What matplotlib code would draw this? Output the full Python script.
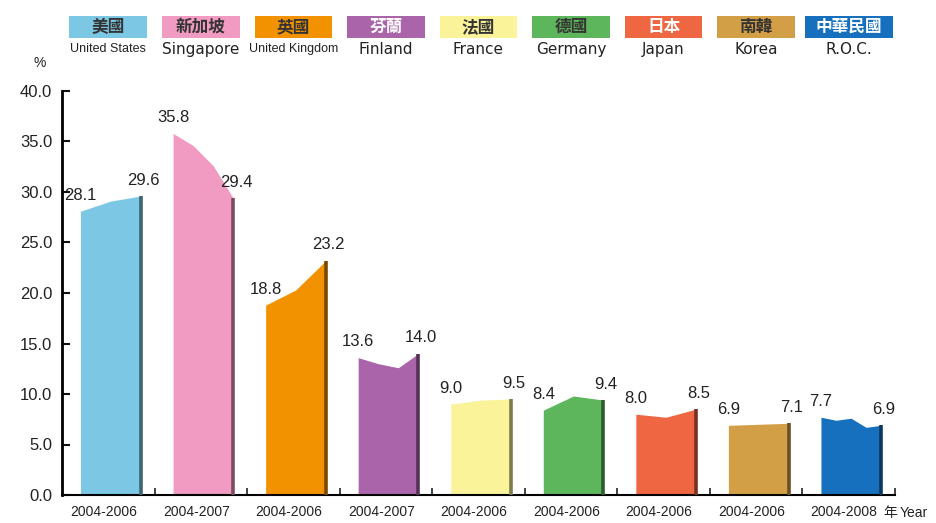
import matplotlib
matplotlib.use("Agg")
import matplotlib.pyplot as plt
import matplotlib.transforms as mtransforms
from matplotlib.patches import Rectangle
import numpy as np

plt.rcParams['font.family'] = ['Liberation Sans', 'Noto Sans CJK TC', 'DejaVu Sans']

# Country series (percent), one value per year in each period
names_zh = ['美國', '新加坡', '英國', '芬蘭', '法國', '德國', '日本', '南韓', '中華民國']
names_en = ['United States', 'Singapore', 'United Kingdom', 'Finland', 'France',
            'Germany', 'Japan', 'Korea', 'R.O.C.']
periods = ['2004-2006', '2004-2007', '2004-2006', '2004-2007', '2004-2006',
           '2004-2006', '2004-2006', '2004-2006', '2004-2008']
us = [28.1, 29.1, 29.6]
singapore = [35.8, 34.6, 32.6, 29.4]
uk = [18.8, 20.3, 23.2]
finland = [13.6, 13.0, 12.6, 14.0]
france = [9.0, 9.4, 9.5]
germany = [8.4, 9.8, 9.4]
japan = [8.0, 7.7, 8.5]
korea = [6.9, 7.0, 7.1]
roc = [7.7, 7.4, 7.6, 6.7, 6.9]
series = [us, singapore, uk, finland, france, germany, japan, korea, roc]

fills = ['#7CC8E4', '#F29BC2', '#F39200', '#A964AA', '#FAF39A',
         '#5DB65B', '#EE6642', '#D39F46', '#1670BE']
text_on_box = ['#333333', '#333333', '#333333', 'white', '#333333',
               '#333333', 'white', '#333333', 'white']


def darker(hex_color, f=0.45):
    r, g, b = matplotlib.colors.to_rgb(hex_color)
    return (r * f, g * f, b * f)


fig = plt.figure(figsize=(9.36, 5.23), dpi=100)
ax = fig.add_axes([62 / 936, 1 - 495 / 523, (895 - 62) / 936, (495 - 91) / 523])

n = len(series)
left_off, right_off = 0.2, 0.85
for i, vals in enumerate(series):
    xs = np.linspace(i + left_off, i + right_off, len(vals))
    ax.fill_between(xs, 0, vals, color=fills[i], lw=0, zorder=2)
    # shaded right edge
    ax.plot([xs[-1], xs[-1]], [0, vals[-1]], color=darker(fills[i], 0.5),
            lw=2.6, solid_capstyle='butt', zorder=3)
    ax.annotate(f'{vals[0]:.1f}', (xs[0], vals[0]), xytext=(0, 6),
                textcoords='offset points', ha='center', va='bottom',
                fontsize=12, color='#222222')
    ax.annotate(f'{vals[-1]:.1f}', (xs[-1], vals[-1]), xytext=(2, 6),
                textcoords='offset points', ha='center', va='bottom',
                fontsize=12, color='#222222')

ax.set_xlim(0, n)
ax.set_ylim(0, 40)
ax.set_yticks(np.arange(0, 41, 5))
ax.set_yticklabels([f'{v:.1f}' for v in np.arange(0, 41, 5)], fontsize=12)
ax.tick_params(axis='y', direction='in', length=6, width=1.5, pad=7, colors='#111111',
               labelcolor='#222222')

ax.set_xticks([i + 0.45 for i in range(n)])
ax.set_xticklabels(periods, fontsize=10, color='#222222')
ax.tick_params(axis='x', length=0, pad=7)
ax.set_xticks(np.arange(1, n + 1), minor=True)
ax.tick_params(axis='x', which='minor', direction='in', length=5, width=1.2, colors='#222222')

for s in ['top', 'right']:
    ax.spines[s].set_visible(False)
ax.spines['left'].set_linewidth(2)
ax.spines['bottom'].set_linewidth(1.5)

# legend strip: coloured boxes with Chinese names, English names underneath
blend = mtransforms.blended_transform_factory(ax.transData, fig.transFigure)
box_bottom, box_h = 1 - 38 / 523, 22 / 523
for i in range(n):
    cx = i + 0.5
    w = 0.95 if len(names_zh[i]) == 4 else 0.84
    ax.add_artist(Rectangle((cx - w / 2, box_bottom), w, box_h, transform=blend,
                            facecolor=fills[i], edgecolor='none', clip_on=False))
    ax.text(cx, box_bottom + box_h / 2, names_zh[i], transform=blend, ha='center',
            va='center', fontsize=12, fontweight='bold', color=text_on_box[i],
            family=['Noto Sans CJK TC', 'DejaVu Sans'], clip_on=False)
    small = names_en[i] in ('United States', 'United Kingdom')
    ax.text(cx, 1 - 49 / 523, names_en[i], transform=blend, ha='center', va='center',
            fontsize=9 if small else 11, color='#222222', clip_on=False,
            family=['Liberation Sans'] if small else ['DejaVu Sans'])

fig.text(40 / 936, 1 - 63 / 523, '%', fontsize=10, ha='center', va='center', color='#222222')
fig.text(883 / 936, 1 - 513 / 523, '年', fontsize=10, ha='left', va='center', color='#222222',
         family=['Noto Sans CJK TC', 'DejaVu Sans'])
fig.text(900 / 936, 1 - 513 / 523, 'Year', fontsize=10, ha='left', va='center', color='#222222')

fig.savefig('out.png', dpi=100)
